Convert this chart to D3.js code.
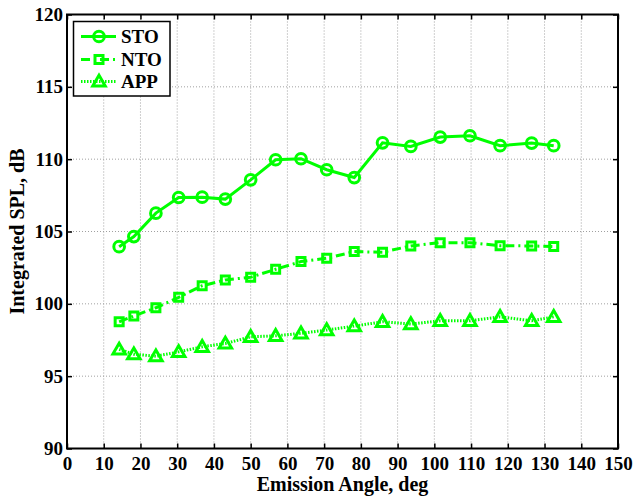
<!DOCTYPE html>
<html>
<head>
<meta charset="utf-8">
<script src="https://cdn.jsdelivr.net/npm/d3@7"></script>
<style>
  html, body { margin: 0; padding: 0; background: #fff; }
  svg text { font-family: "Liberation Serif", "Times New Roman", serif; font-weight: bold; fill: #000; }
</style>
</head>
<body>
<div id="root"></div>
<script>
// Data
const angles = [14.2, 18.2, 24.2, 30.4, 36.8, 43.1, 50.0, 56.8, 63.7, 70.7, 78.2, 85.9, 93.6, 101.6, 109.7, 117.9, 126.5, 132.5];
const sto = [103.95, 104.65, 106.27, 107.35, 107.37, 107.24, 108.57, 109.96, 110.03, 109.27, 108.73, 111.13, 110.88, 111.53, 111.62, 110.93, 111.11, 110.93];
const nto = [98.76, 99.16, 99.73, 100.45, 101.25, 101.65, 101.84, 102.39, 102.92, 103.15, 103.61, 103.57, 104.0, 104.23, 104.23, 104.02, 104.0, 103.96];
const app = [96.85, 96.52, 96.38, 96.68, 97.03, 97.26, 97.72, 97.79, 97.96, 98.19, 98.46, 98.76, 98.6, 98.83, 98.83, 99.1, 98.83, 99.1];
const xTicks = d3.range(0, 151, 10);
const yTicks = d3.range(90, 121, 5);

const width = 634, height = 497;
const margin = { left: 67, right: 16, top: 14.5, bottom: 48.5 };
const green = "#00ff00";

const svg = d3.select("#root").append("svg")
  .attr("width", width)
  .attr("height", height);

const xScale = d3.scaleLinear().domain([0, 150]).range([margin.left, width - margin.right]);
const yScale = d3.scaleLinear().domain([90, 120]).range([height - margin.bottom, margin.top]);

// grid
const grid = svg.append("g")
  .attr("stroke", "#a0a0a0")
  .attr("stroke-width", 1)
  .attr("stroke-dasharray", "1,2");
grid.selectAll("line.gx")
  .data(xTicks.slice(1, -1))
  .enter().append("line")
    .attr("x1", d => xScale(d)).attr("x2", d => xScale(d))
    .attr("y1", yScale(90)).attr("y2", yScale(120));
grid.selectAll("line.gy")
  .data(yTicks.slice(1, -1))
  .enter().append("line")
    .attr("y1", d => yScale(d)).attr("y2", d => yScale(d))
    .attr("x1", xScale(0)).attr("x2", xScale(150));

// axes with inward ticks
svg.append("g")
  .attr("transform", `translate(0, ${yScale(90)})`)
  .call(d3.axisBottom(xScale).tickValues(xTicks).tickSizeInner(-5).tickSizeOuter(0).tickPadding(8))
  .call(g => g.select(".domain").remove())
  .call(g => g.selectAll("line").attr("stroke-width", 1.5))
  .call(g => g.selectAll("text").style("font-size", "19px").attr("font-family", null));
svg.append("g")
  .attr("transform", `translate(0, ${yScale(120)})`)
  .call(d3.axisTop(xScale).tickValues(xTicks).tickSizeInner(-5).tickSizeOuter(0).tickFormat(""))
  .call(g => g.select(".domain").remove())
  .call(g => g.selectAll("line").attr("stroke-width", 1.5));
svg.append("g")
  .attr("transform", `translate(${xScale(0)}, 0)`)
  .call(d3.axisLeft(yScale).tickValues(yTicks).tickSizeInner(-5).tickSizeOuter(0).tickPadding(4))
  .call(g => g.select(".domain").remove())
  .call(g => g.selectAll("line").attr("stroke-width", 1.5))
  .call(g => g.selectAll("text").style("font-size", "19px").attr("font-family", null));
svg.append("g")
  .attr("transform", `translate(${xScale(150)}, 0)`)
  .call(d3.axisRight(yScale).tickValues(yTicks).tickSizeInner(-5).tickSizeOuter(0).tickFormat(""))
  .call(g => g.select(".domain").remove())
  .call(g => g.selectAll("line").attr("stroke-width", 1.5));

// frame
svg.append("rect")
  .attr("x", xScale(0)).attr("y", yScale(120))
  .attr("width", xScale(150) - xScale(0))
  .attr("height", yScale(90) - yScale(120))
  .attr("fill", "none")
  .attr("stroke", "#000")
  .attr("stroke-width", 2);

// axis titles
svg.append("text")
  .text("Emission Angle, deg")
  .attr("x", (xScale(0) + xScale(150)) / 2)
  .attr("y", 491)
  .attr("text-anchor", "middle")
  .style("font-size", "20px");
svg.append("text")
  .text("Integrated SPL, dB")
  .attr("transform", `translate(24, ${(yScale(90) + yScale(120)) / 2}) rotate(-90)`)
  .attr("text-anchor", "middle")
  .style("font-size", "20px");

// series
const series = [
  { name: "STO", values: sto, dash: null, marker: "circle" },
  { name: "NTO", values: nto, dash: "9,4,2,4", marker: "square" },
  { name: "APP", values: app, dash: "1.5,1.5", marker: "triangle" }
];

const lineCreator = d3.line()
  .x((d, i) => xScale(angles[i]))
  .y(d => yScale(d));

const symbols = {
  circle: d3.symbol().type(d3.symbolCircle).size(90),
  square: d3.symbol().type(d3.symbolSquare).size(64),
  triangle: d3.symbol().type(d3.symbolTriangle).size(68)
};

function drawMarker(g, type, x, y) {
  g.append("path")
    .attr("d", symbols[type]())
    .attr("transform", `translate(${x}, ${y + (type === "triangle" ? 1 : 0)})`)
    .attr("fill", "none")
    .attr("stroke", green)
    .attr("stroke-width", 3);
}

series.forEach(s => {
  const g = svg.append("g");
  g.append("path")
    .datum(s.values)
    .attr("d", lineCreator)
    .attr("fill", "none")
    .attr("stroke", green)
    .attr("stroke-width", 3)
    .attr("stroke-dasharray", s.dash);
  s.values.forEach((v, i) => drawMarker(g, s.marker, xScale(angles[i]), yScale(v)));
});

// legend
const legend = svg.append("g");
legend.append("rect")
  .attr("x", 73.5).attr("y", 21.5)
  .attr("width", 96.5).attr("height", 74.5)
  .attr("fill", "#fff")
  .attr("stroke", "#000")
  .attr("stroke-width", 1.5);
series.forEach((s, i) => {
  const y = [36.5, 59.5, 81.5][i];
  legend.append("line")
    .attr("x1", 81).attr("x2", 116)
    .attr("y1", y).attr("y2", y)
    .attr("stroke", green)
    .attr("stroke-width", 3)
    .attr("stroke-dasharray", s.dash);
  drawMarker(legend, s.marker, 99, y);
  legend.append("text")
    .text(s.name)
    .attr("x", 121).attr("y", y)
    .attr("dy", "0.35em")
    .style("font-size", "19px");
});
</script>
</body>
</html>
